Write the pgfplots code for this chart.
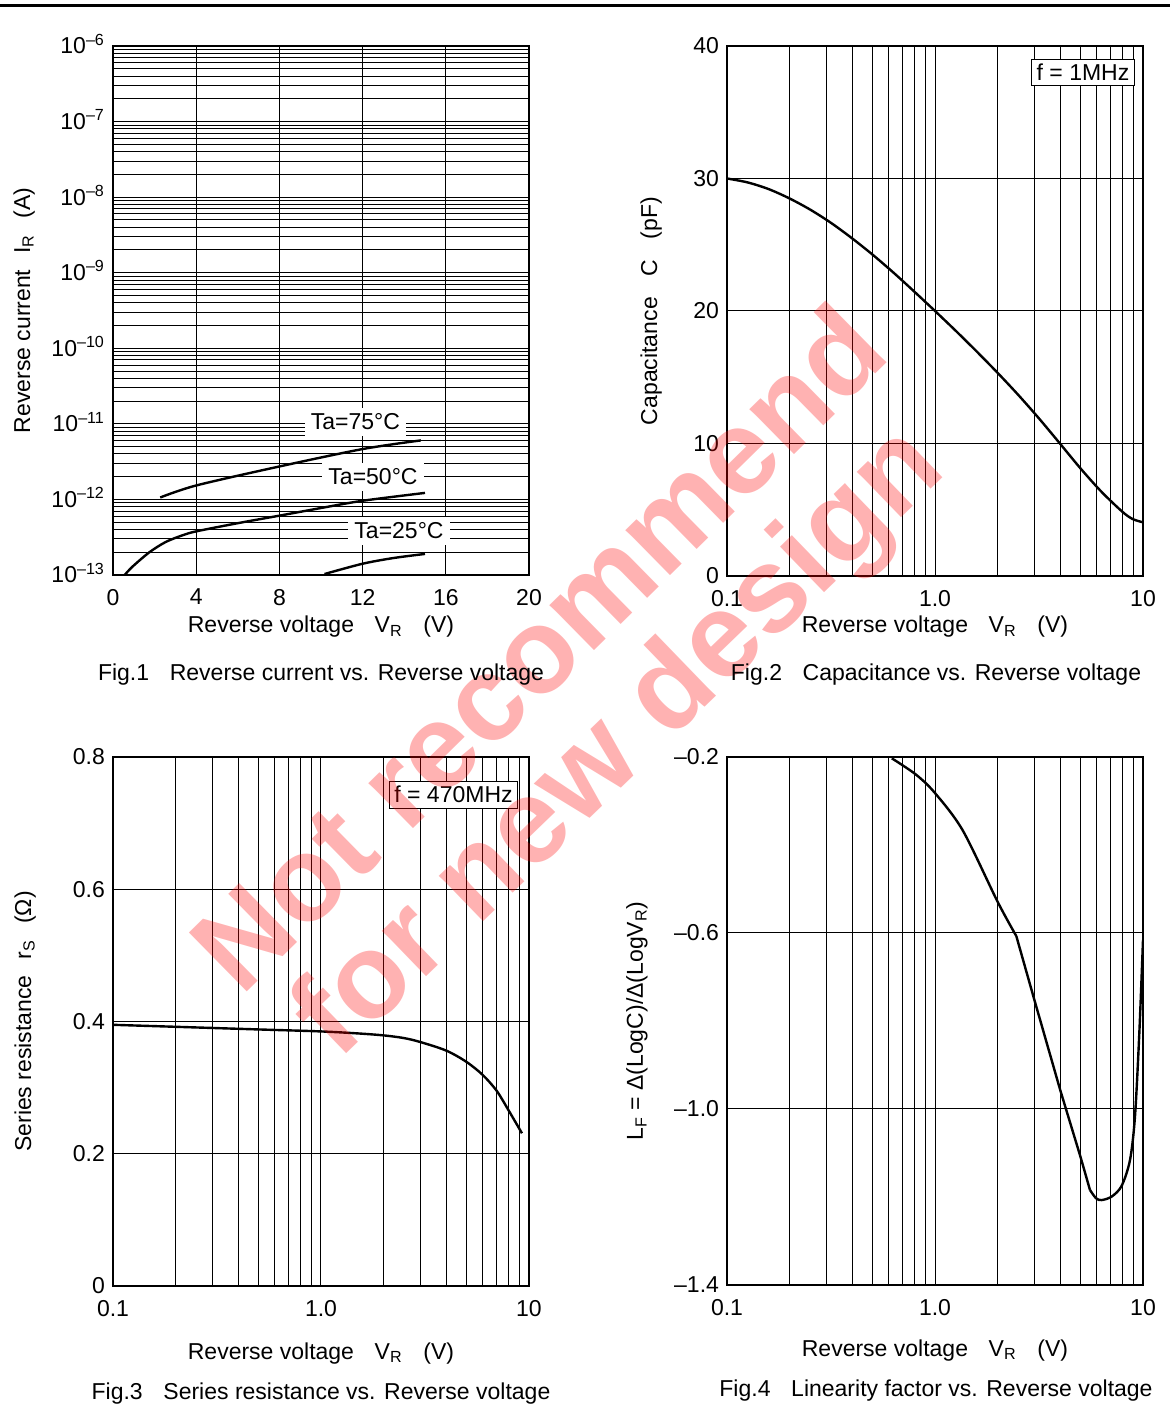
\documentclass[border=0pt]{standalone}
\usepackage{fontspec}
\setmainfont{Liberation Sans}
\usepackage{pgfplots}
\pgfplotsset{compat=1.18}
\begin{document}
\fontsize{11.5}{13.8}\selectfont
\begin{tikzpicture}[font=\fontsize{11.5}{13.8}\selectfont]
\path[use as bounding box] (0pt,0pt) rectangle (585pt,708.5pt);
\draw[line width=1.5pt] (0pt,705.75pt) -- (585pt,705.75pt);
\pgfplotsset{
  every axis/.append style={
    scale only axis, width=208pt, height=264.5pt, anchor=south west,
    axis line style={line width=0.9pt},
    major tick length=0pt, minor tick length=0pt,
    grid=both,
    major grid style={line width=0.5pt, black},
    minor grid style={line width=0.5pt, black},
    xticklabel style={yshift=-3pt},
    label style={font=\fontsize{11.5}{13.8}\selectfont},
    tick label style={font=\fontsize{11.5}{13.8}\selectfont},
  },
  curve/.style={line width=1.2pt, black, smooth, no markers},
}
% ---------------- Fig.1 ----------------
\begin{axis}[at={(56.5pt,421pt)},
  xmin=0, xmax=20, ymode=log, ymin=1e-13, ymax=1e-6,
  xtick={0,4,8,12,16,20}, xticklabels={0,4,8,12,16,20},
  ytick={1e-13,1e-12,1e-11,1e-10,1e-9,1e-8,1e-7,1e-6},
  yticklabels={10\smash{\textsuperscript{–13}},10\smash{\textsuperscript{–12}},10\smash{\textsuperscript{–11}},10\smash{\textsuperscript{–10}},10\smash{\textsuperscript{–9}},10\smash{\textsuperscript{–8}},10\smash{\textsuperscript{–7}},10\smash{\textsuperscript{–6}}},
  minor ytick={2e-13,3e-13,4e-13,5e-13,6e-13,7e-13,8e-13,9e-13,
               2e-12,3e-12,4e-12,5e-12,6e-12,7e-12,8e-12,9e-12,
               2e-11,3e-11,4e-11,5e-11,6e-11,7e-11,8e-11,9e-11,
               2e-10,3e-10,4e-10,5e-10,6e-10,7e-10,8e-10,9e-10,
               2e-9,3e-9,4e-9,5e-9,6e-9,7e-9,8e-9,9e-9,
               2e-8,3e-8,4e-8,5e-8,6e-8,7e-8,8e-8,9e-8,
               2e-7,3e-7,4e-7,5e-7,6e-7,7e-7,8e-7,9e-7},
  xlabel={Reverse voltage\hspace{0.9em}V\textsubscript{R}\hspace{0.9em}(V)},
  xlabel style={at={(axis description cs:0.5,-0.1096)}, anchor=base},
  ylabel={Reverse current\hspace{0.7em}I\textsubscript{R}\hspace{0.7em}(A)},
  ylabel style={at={(axis description cs:-0.1995,0.5)}, anchor=base},
]
\addplot[curve] coordinates {(2.27,1.06e-12) (4,1.53e-12) (8,2.73e-12) (12,4.64e-12) (14.8,6.04e-12)};
\addplot[curve] coordinates {(0.56,1.0e-13) (0.95,1.30e-13) (1.75,2.0e-13) (2.54,2.74e-13) (3.34,3.35e-13) (4,3.78e-13) (6,4.85e-13) (8,6.1e-13) (10,7.7e-13) (12,9.6e-13) (15,1.22e-12)};
\addplot[curve] coordinates {(10.17,1.03e-13) (12,1.41e-13) (13.5,1.68e-13) (15,1.90e-13)};
\node[fill=white, inner xsep=3pt, inner ysep=3pt] at (axis cs:11.65,1.06e-11) {Ta=75°C};
\node[fill=white, inner xsep=3pt, inner ysep=3pt] at (axis cs:12.5,1.98e-12) {Ta=50°C};
\node[fill=white, inner xsep=3pt, inner ysep=3pt] at (axis cs:13.75,3.82e-13) {Ta=25°C};
\end{axis}
% ---------------- Fig.2 ----------------
\begin{axis}[at={(363.5pt,420.5pt)}, height=265pt,
  xmode=log, xmin=0.1, xmax=10, ymin=0, ymax=40,
  xtick={0.1,1,10}, xticklabels={0.1,1.0,10},
  minor xtick={0.2,0.3,0.4,0.5,0.6,0.7,0.8,0.9,2,3,4,5,6,7,8,9},
  ytick={0,10,20,30,40}, yticklabels={0,10,20,30,40},
  xlabel={Reverse voltage\hspace{0.9em}V\textsubscript{R}\hspace{0.9em}(V)},
  xlabel style={at={(axis description cs:0.5,-0.1075)}, anchor=base},
  ylabel={Capacitance\hspace{0.9em}C\hspace{0.9em}(pF)},
  ylabel style={at={(axis description cs:-0.168,0.5)}, anchor=base},
]
\addplot[curve] coordinates {(0.1,30.0) (0.1259,29.7) (0.1585,29.2) (0.1995,28.5) (0.2512,27.65) (0.3162,26.65) (0.3981,25.5) (0.5012,24.25) (0.631,22.9) (0.7943,21.47) (1.0,20.0) (1.259,18.5) (1.585,16.95) (1.995,15.35) (2.512,13.67) (3.162,11.89) (3.981,10.01) (5.012,8.11) (6.31,6.36) (7.943,4.86) (8.913,4.3) (10,4.05)};
\node[fill=white, draw=black, line width=0.6pt, inner sep=2.5pt] at (axis cs:5.146,38.0) {f = 1MHz};
\end{axis}
% ---------------- Fig.3 ----------------
\begin{axis}[at={(56.5pt,65.5pt)},
  xmode=log, xmin=0.1, xmax=10, ymin=0, ymax=0.8,
  xtick={0.1,1,10}, xticklabels={0.1,1.0,10},
  minor xtick={0.2,0.3,0.4,0.5,0.6,0.7,0.8,0.9,2,3,4,5,6,7,8,9},
  ytick={0,0.2,0.4,0.6,0.8}, yticklabels={0,0.2,0.4,0.6,0.8},
  xlabel={Reverse voltage\hspace{0.9em}V\textsubscript{R}\hspace{0.9em}(V)},
  xlabel style={at={(axis description cs:0.5,-0.138)}, anchor=base},
  ylabel={Series resistance\hspace{0.7em}r\textsubscript{S}\hspace{0.7em}(Ω)},
  ylabel style={at={(axis description cs:-0.197,0.5)}, anchor=base},
]
\addplot[curve] coordinates {(0.1,0.395) (0.2,0.392) (0.5,0.388) (1,0.385) (1.5,0.382) (2,0.379) (2.5,0.375) (3,0.369) (4,0.356) (5,0.339) (6,0.319) (7,0.295) (8,0.265) (9.25,0.231)};
\node[fill=white, draw=black, line width=0.6pt, inner sep=2.5pt] at (axis cs:4.336,0.743) {f = 470MHz};
\end{axis}
% ---------------- Fig.4 ----------------
\begin{axis}[at={(363.5pt,66pt)}, height=264pt,
  xmode=log, xmin=0.1, xmax=10, ymin=-1.4, ymax=-0.2,
  xtick={0.1,1,10}, xticklabels={0.1,1.0,10},
  minor xtick={0.2,0.3,0.4,0.5,0.6,0.7,0.8,0.9,2,3,4,5,6,7,8,9},
  ytick={-1.4,-1.0,-0.6,-0.2}, yticklabels={–1.4,–1.0,–0.6,–0.2},
  xlabel={Reverse voltage\hspace{0.9em}V\textsubscript{R}\hspace{0.9em}(V)},
  xlabel style={at={(axis description cs:0.5,-0.1345)}, anchor=base},
  ylabel={L\textsubscript{F} = Δ(LogC)/Δ(LogV\textsubscript{R})},
  ylabel style={at={(axis description cs:-0.202,0.5)}, anchor=base},
]
\addplot[curve] coordinates {(0.62,-0.203) (0.81,-0.24) (1.0,-0.282) (1.36,-0.367) (2.0,-0.529) (2.46,-0.607)};
\addplot[line width=1.2pt, black, no markers] coordinates {(2.46,-0.607) (3.0,-0.751) (4.0,-0.957) (5.0,-1.108) (5.56,-1.184)};
\addplot[curve] coordinates {(5.56,-1.184) (5.95,-1.203) (6.33,-1.207) (7.07,-1.199) (7.89,-1.175) (8.66,-1.116) (9.15,-1.017) (9.6,-0.828) (10.0,-0.616)};
\end{axis}
% ---------------- watermark ----------------
\node[rotate=44.5, text=red, text opacity=0.3, font=\bfseries\fontsize{60}{60}\selectfont] at (268.5pt,385pt) {Not recommend};
\node[rotate=44, text=red, text opacity=0.3, font=\bfseries\fontsize{60}{60}\selectfont] at (311pt,336pt) {for new design};
% captions
\node[anchor=base] at (160.5pt,368pt) {Fig.1\hspace{0.9em}Reverse current vs. Reverse voltage};
\node[anchor=base] at (468pt,368pt) {Fig.2\hspace{0.9em}Capacitance vs. Reverse voltage};
\node[anchor=base] at (160.5pt,9pt) {Fig.3\hspace{0.9em}Series resistance vs. Reverse voltage};
\node[anchor=base] at (468pt,10pt) {Fig.4\hspace{0.9em}Linearity factor vs. Reverse voltage};
\end{tikzpicture}
\end{document}
